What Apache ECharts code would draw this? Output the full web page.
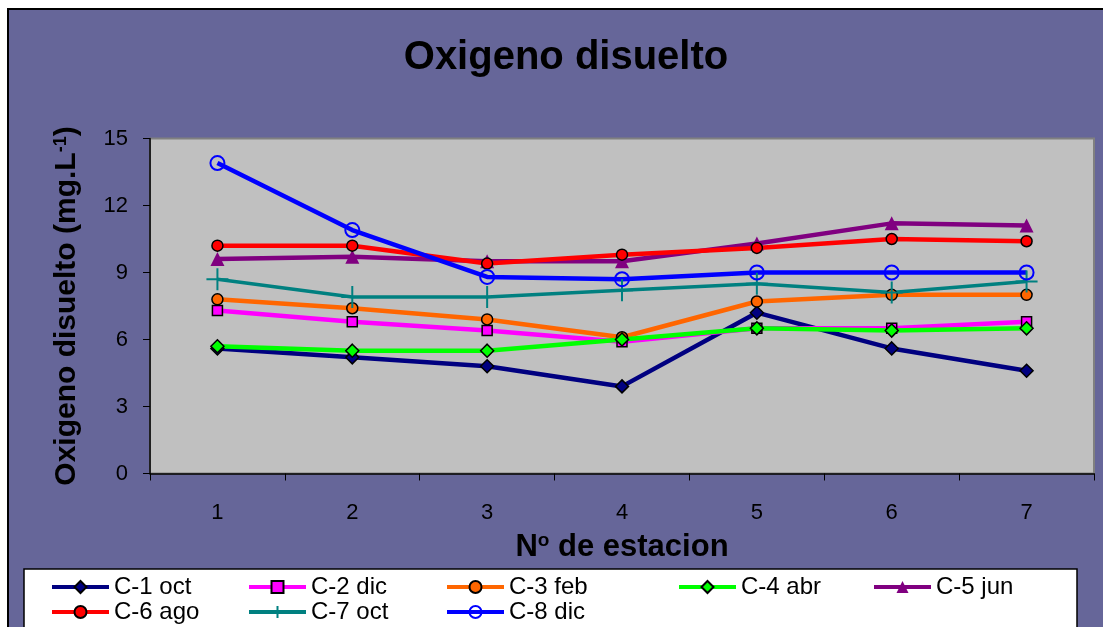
<!DOCTYPE html>
<html>
<head>
<meta charset="utf-8">
<script src="https://cdn.jsdelivr.net/npm/echarts@6/dist/echarts.min.js"></script>
<style>
html,body{margin:0;padding:0;background:#fff;}
#chart{width:1103px;height:627px;}
</style>
</head>
<body>
<div id="chart"></div>
<script>
var categories = ['1', '2', '3', '4', '5', '6', '7'];
var yTicks = [0, 3, 6, 9, 12, 15];
var names = ['C-1 oct', 'C-2 dic', 'C-3 feb', 'C-4 abr', 'C-5 jun', 'C-6 ago', 'C-7 oct', 'C-8 dic'];
var c1 = [5.6, 5.2, 4.8, 3.9, 7.2, 5.6, 4.6];
var c2 = [7.3, 6.8, 6.4, 5.9, 6.5, 6.5, 6.8];
var c3 = [7.8, 7.4, 6.9, 6.1, 7.7, 8.0, 8.0];
var c4 = [5.7, 5.5, 5.5, 6.0, 6.5, 6.4, 6.5];
var c5 = [9.6, 9.7, 9.5, 9.5, 10.3, 11.2, 11.1];
var c6 = [10.2, 10.2, 9.4, 9.8, 10.1, 10.5, 10.4];
var c7 = [8.7, 7.9, 7.9, 8.2, 8.5, 8.1, 8.6];
var c8 = [13.9, 10.9, 8.8, 8.7, 9.0, 9.0, 9.0];

var FONT = '"Liberation Sans", Arial, sans-serif';
var chart = echarts.init(document.getElementById('chart'), null, {renderer: 'canvas'});

function ser(name, data, color, symbol, size, fill, border, bw, lw) {
  return {
    name: name, type: 'line', data: data,
    symbol: symbol, symbolSize: size,
    lineStyle: {color: color, width: lw},
    itemStyle: {color: fill, borderColor: border, borderWidth: bw},
    emphasis: {disabled: true},
    animation: false
  };
}
var plus = 'path://M10,0 L10,20 M0,10 L20,10';

var series = [
  ser(names[0], c1, '#000080', 'diamond', 13, '#000080', '#000000', 1.5, 4.5),
  ser(names[1], c2, '#FF00FF', 'rect', 10, '#FF00FF', '#000000', 1.5, 4.5),
  ser(names[2], c3, '#FF6600', 'circle', 11, '#FF6600', '#000000', 1.5, 4.5),
  ser(names[3], c4, '#00FF00', 'diamond', 13, '#00FF00', '#000000', 1.5, 4.5),
  ser(names[4], c5, '#800080', 'triangle', 14, '#800080', '#800080', 0, 4.5),
  ser(names[5], c6, '#FF0000', 'circle', 11, '#FF0000', '#000000', 1.5, 4.5),
  ser(names[6], c7, '#008080', plus, 22, 'rgba(0,0,0,0)', '#008080', 2, 3.5),
  ser(names[7], c8, '#0000FF', 'circle', 14, 'rgba(0,0,0,0)', '#0000FF', 2, 4.5)
];

var legendLeft = [50, 247, 445, 677, 872, 50, 247, 445];
var legendTop = [575, 575, 575, 575, 575, 600, 600, 600];
var legends = names.map(function (n, i) {
  return {
    data: [n], left: legendLeft[i], top: legendTop[i],
    orient: 'horizontal', itemWidth: 57, itemHeight: 15, itemGap: 0,
    lineStyle: {width: 4},
    textStyle: {fontFamily: FONT, fontSize: 24, color: '#000'},
    padding: 0, selectedMode: false
  };
});

chart.setOption({
  backgroundColor: '#ffffff',
  textStyle: {fontFamily: FONT},
  graphic: [
    {type: 'rect', z: -10, silent: true, shape: {x: 8, y: 9, width: 1110, height: 640},
     style: {fill: '#666699', stroke: '#000000', lineWidth: 2}},
    {type: 'rect', z: -9, silent: true, shape: {x: 24, y: 569, width: 1053, height: 80},
     style: {fill: '#ffffff', stroke: '#000000', lineWidth: 1.5}}
  ],
  title: {
    text: 'Oxigeno disuelto', left: 561, top: 33, textAlign: 'center',
    textStyle: {fontFamily: FONT, fontSize: 40, fontWeight: 'bold', color: '#000'}
  },
  legend: legends,
  grid: {
    left: 150, right: 9, top: 138.5, bottom: 153.5, containLabel: false,
    show: true, backgroundColor: '#C0C0C0', borderColor: '#808080', borderWidth: 2
  },
  xAxis: {
    type: 'category', data: categories, boundaryGap: true,
    axisLine: {lineStyle: {color: '#000', width: 1.5}},
    axisTick: {show: true, length: 7, lineStyle: {color: '#000'}},
    axisLabel: {fontFamily: FONT, fontSize: 22, color: '#000', margin: 28},
    name: 'N{sup|o} de estacion', nameLocation: 'middle', nameGap: 58,
    nameTextStyle: {fontFamily: FONT, fontSize: 31, fontWeight: 'bold', color: '#000',
      rich: {sup: {fontFamily: FONT, fontSize: 19, fontWeight: 'bold', color: '#000', verticalAlign: 'top', padding: [0,0,12,0]}}}
  },
  yAxis: {
    type: 'value', min: yTicks[0], max: yTicks[yTicks.length - 1], interval: 3,
    splitLine: {show: false},
    axisLine: {show: true, lineStyle: {color: '#000', width: 1.5}},
    axisTick: {show: true, length: 7, lineStyle: {color: '#000'}},
    axisLabel: {fontFamily: FONT, fontSize: 22, color: '#000', margin: 22},
    name: 'Oxigeno disuelto (mg.L{sup|-1})', nameLocation: 'middle', nameRotate: 90, nameGap: 68,
    nameTextStyle: {fontFamily: FONT, fontSize: 30, fontWeight: 'bold', color: '#000',
      rich: {sup: {fontFamily: FONT, fontSize: 18, fontWeight: 'bold', color: '#000', verticalAlign: 'top', padding: [0,0,12,0]}}}
  },
  series: series
});
</script>
</body>
</html>
